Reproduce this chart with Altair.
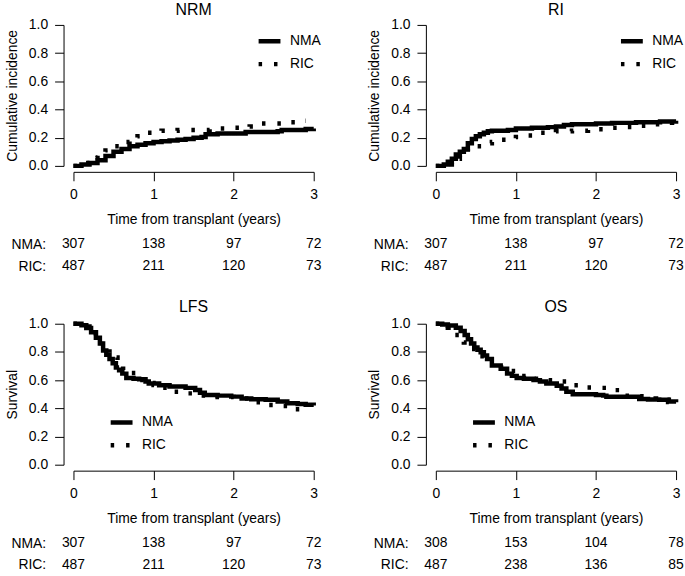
import altair as alt
import pandas as pd

FONT = "Liberation Sans"
GROUPS = ["NMA", "RIC"]
RISK_TIMES = [0, 1, 2, 3]
RISK_ROWS = ["NMA:", "RIC:"]
Y_TICKS = [0.0, 0.2, 0.4, 0.6, 0.8, 1.0]

# ---- NRM ----
NRM_NMA_T = [0, 0.1, 0.2, 0.3, 0.4, 0.5, 0.6, 0.7, 0.8, 0.9, 1.0, 1.1, 1.2, 1.3, 1.4, 1.5, 1.6, 1.65, 1.8, 2.15, 2.4, 2.55, 2.6, 2.9, 3.0]
NRM_NMA_V = [0, 0.01, 0.02, 0.04, 0.07, 0.10, 0.12, 0.14, 0.15, 0.16, 0.17, 0.175, 0.18, 0.185, 0.19, 0.20, 0.205, 0.225, 0.23, 0.24, 0.24, 0.245, 0.255, 0.262, 0.265]
NRM_RIC_T = [0, 0.1, 0.2, 0.3, 0.4, 0.5, 0.6, 0.7, 0.8, 0.9, 1.0, 1.1, 1.3, 1.7, 1.8, 2.0, 2.2, 2.3, 2.6, 2.7, 2.8, 2.9]
NRM_RIC_V = [0, 0.02, 0.06, 0.09, 0.11, 0.14, 0.17, 0.19, 0.21, 0.235, 0.245, 0.25, 0.255, 0.26, 0.265, 0.27, 0.28, 0.30, 0.305, 0.31, 0.32, 0.32]

# ---- RI ----
RI_NMA_T = [0, 0.1, 0.15, 0.2, 0.25, 0.3, 0.35, 0.4, 0.45, 0.5, 0.55, 0.6, 0.65, 0.7, 0.9, 1.0, 1.2, 1.4, 1.5, 1.6, 1.7, 2.0, 2.2, 2.5, 2.8, 3.0]
RI_NMA_V = [0, 0.01, 0.03, 0.05, 0.08, 0.10, 0.12, 0.16, 0.19, 0.21, 0.225, 0.235, 0.245, 0.25, 0.255, 0.265, 0.27, 0.275, 0.28, 0.29, 0.295, 0.30, 0.305, 0.31, 0.315, 0.32]
RI_RIC_T = [0, 0.1, 0.2, 0.3, 0.4, 0.5, 0.6, 0.7, 0.8, 1.0, 1.15, 1.3, 1.5, 1.7, 1.9, 2.1, 2.3, 2.5, 2.7, 2.9, 2.95]
RI_RIC_V = [0, 0.01, 0.05, 0.09, 0.12, 0.14, 0.16, 0.17, 0.185, 0.205, 0.215, 0.235, 0.245, 0.25, 0.26, 0.27, 0.275, 0.285, 0.295, 0.305, 0.31]

# ---- LFS ----
LFS_NMA_T = [0, 0.1, 0.16, 0.22, 0.28, 0.33, 0.37, 0.41, 0.45, 0.49, 0.53, 0.57, 0.61, 0.66, 0.75, 0.82, 0.9, 0.94, 1.07, 1.2, 1.4, 1.52, 1.58, 1.64, 1.8, 1.97, 2.1, 2.22, 2.4, 2.55, 2.67, 2.8, 2.9, 3.0]
LFS_NMA_V = [1.0, 0.99, 0.97, 0.94, 0.90, 0.86, 0.81, 0.78, 0.75, 0.72, 0.69, 0.67, 0.646, 0.615, 0.61, 0.606, 0.59, 0.576, 0.564, 0.555, 0.545, 0.53, 0.51, 0.494, 0.49, 0.483, 0.47, 0.464, 0.46, 0.448, 0.436, 0.43, 0.425, 0.42]
LFS_RIC_T = [0, 0.1, 0.2, 0.28, 0.35, 0.45, 0.55, 0.62, 0.7, 0.8, 0.9, 1.0, 1.09, 1.23, 1.4, 1.6, 1.8, 2.0, 2.23, 2.39, 2.57, 2.72, 2.87, 2.92]
LFS_RIC_V = [1.0, 0.98, 0.94, 0.90, 0.84, 0.76, 0.70, 0.67, 0.65, 0.60, 0.58, 0.565, 0.545, 0.517, 0.506, 0.49, 0.48, 0.47, 0.443, 0.424, 0.417, 0.394, 0.378, 0.375]

# ---- OS ----
OS_NMA_T = [0, 0.08, 0.15, 0.25, 0.31, 0.36, 0.4, 0.44, 0.48, 0.52, 0.56, 0.6, 0.64, 0.7, 0.81, 0.89, 0.95, 1.01, 1.1, 1.22, 1.3, 1.38, 1.51, 1.57, 1.63, 1.71, 2.0, 2.09, 2.13, 2.46, 2.54, 2.65, 2.79, 2.91, 3.0]
OS_NMA_V = [1.0, 0.995, 0.988, 0.972, 0.949, 0.92, 0.89, 0.86, 0.832, 0.815, 0.797, 0.775, 0.75, 0.704, 0.68, 0.646, 0.63, 0.615, 0.61, 0.6, 0.59, 0.576, 0.56, 0.54, 0.517, 0.5, 0.494, 0.49, 0.482, 0.482, 0.466, 0.462, 0.46, 0.448, 0.443]
OS_RIC_T = [0, 0.1, 0.15, 0.23, 0.3, 0.35, 0.45, 0.55, 0.65, 0.75, 0.85, 1.0, 1.15, 1.36, 1.52, 1.68, 1.86, 2.02, 2.2, 2.3, 2.45, 2.6, 2.75, 2.9, 2.98]
OS_RIC_V = [1.0, 0.985, 0.972, 0.92, 0.89, 0.867, 0.82, 0.77, 0.73, 0.69, 0.665, 0.63, 0.61, 0.6, 0.59, 0.564, 0.548, 0.545, 0.529, 0.49, 0.485, 0.47, 0.46, 0.445, 0.44]

# ---- numbers at risk ----
RISK_NMA_A = [307, 138, 97, 72]
RISK_RIC_A = [487, 211, 120, 73]
RISK_NMA_OS = [308, 153, 104, 78]
RISK_RIC_OS = [487, 238, 136, 85]

PLOT_W, PLOT_H = 242, 142


def curves(nt, nv, rt, rv):
    return pd.DataFrame({
        "t": nt + rt,
        "v": nv + rv,
        "group": ["NMA"] * len(nt) + ["RIC"] * len(rt),
    })


def make_plot(title, ytitle, df, lx, ly):
    return alt.Chart(df).mark_line(
        interpolate="step-after", color="black", strokeWidth=4.5, strokeCap="butt"
    ).encode(
        x=alt.X("t:Q",
                scale=alt.Scale(domain=[0, 3], nice=False, zero=False),
                axis=alt.Axis(values=RISK_TIMES, format="d", title="Time from transplant (years)",
                              offset=6, tickSize=9, labelPadding=7, titlePadding=11,
                              labelFlush=False)),
        y=alt.Y("v:Q",
                scale=alt.Scale(domain=[0, 1], nice=False),
                axis=alt.Axis(values=Y_TICKS, format=".1f", title=ytitle,
                              offset=10, tickSize=9, labelPadding=7, titlePadding=9,
                              labelFlush=False)),
        strokeDash=alt.StrokeDash(
            "group:N",
            scale=alt.Scale(domain=GROUPS, range=[[1, 0], [3.5, 12]]),
            legend=alt.Legend(title=None, orient="none", legendX=lx, legendY=ly),
        ),
    ).properties(
        width=PLOT_W, height=PLOT_H,
        title=alt.TitleParams(title, offset=0),
    )


def make_table(nma, ric):
    df = pd.DataFrame({
        "t": RISK_TIMES * 2,
        "row": [RISK_ROWS[0]] * 4 + [RISK_ROWS[1]] * 4,
        "n": nma + ric,
    })
    return alt.Chart(df).mark_text(font=FONT, fontSize=14, color="black").encode(
        x=alt.X("t:Q", scale=alt.Scale(domain=[0, 3], nice=False, zero=False), axis=None),
        y=alt.Y("row:N", scale=alt.Scale(type="point", padding=0, domain=RISK_ROWS),
                axis=alt.Axis(title=None, domain=False, ticks=False, labelPadding=28)),
        text="n:Q",
    ).properties(width=PLOT_W, height=22)


def panel(title, ytitle, df, lx, ly, nma, ric):
    return alt.vconcat(
        make_plot(title, ytitle, df, lx, ly), make_table(nma, ric), spacing=11
    ).resolve_scale(x="independent", y="independent", strokeDash="independent").resolve_legend(strokeDash="independent")


p1 = panel("NRM", "Cumulative incidence", curves(NRM_NMA_T, NRM_NMA_V, NRM_RIC_T, NRM_RIC_V), 184, 3, RISK_NMA_A, RISK_RIC_A)
p2 = panel("RI", "Cumulative incidence", curves(RI_NMA_T, RI_NMA_V, RI_RIC_T, RI_RIC_V), 184, 3, RISK_NMA_A, RISK_RIC_A)
p3 = panel("LFS", "Survival", curves(LFS_NMA_T, LFS_NMA_V, LFS_RIC_T, LFS_RIC_V), 35, 86, RISK_NMA_A, RISK_RIC_A)
p4 = panel("OS", "Survival", curves(OS_NMA_T, OS_NMA_V, OS_RIC_T, OS_RIC_V), 35, 86, RISK_NMA_OS, RISK_RIC_OS)

row1 = alt.hconcat(p1, p2, spacing=45).resolve_scale(x="independent", y="independent", strokeDash="independent").resolve_legend(strokeDash="independent")
row2 = alt.hconcat(p3, p4, spacing=45).resolve_scale(x="independent", y="independent", strokeDash="independent").resolve_legend(strokeDash="independent")

chart = alt.vconcat(row1, row2, spacing=26).resolve_scale(
    x="independent", y="independent", strokeDash="independent"
).resolve_legend(strokeDash="independent").properties(
    padding={"left": 5, "top": 0, "right": 0, "bottom": 0}
).configure_view(stroke=None).configure_axis(
    labelFont=FONT, titleFont=FONT, labelFontSize=14, titleFontSize=14,
    labelColor="black", titleColor="black", tickColor="black", domainColor="black",
    grid=False, titleFontWeight="normal", tickWidth=1, domainWidth=1,
).configure_title(
    font=FONT, fontSize=16, fontWeight="normal", color="black", anchor="middle"
).configure_legend(
    labelFont=FONT, labelFontSize=14, labelColor="black", symbolType="stroke",
    symbolStrokeColor="black", symbolStrokeWidth=4.5, symbolSize=484, padding=0,
    rowPadding=0, labelOffset=7,
)

chart.save("out.html", embed_options={"renderer": "svg", "actions": False})
